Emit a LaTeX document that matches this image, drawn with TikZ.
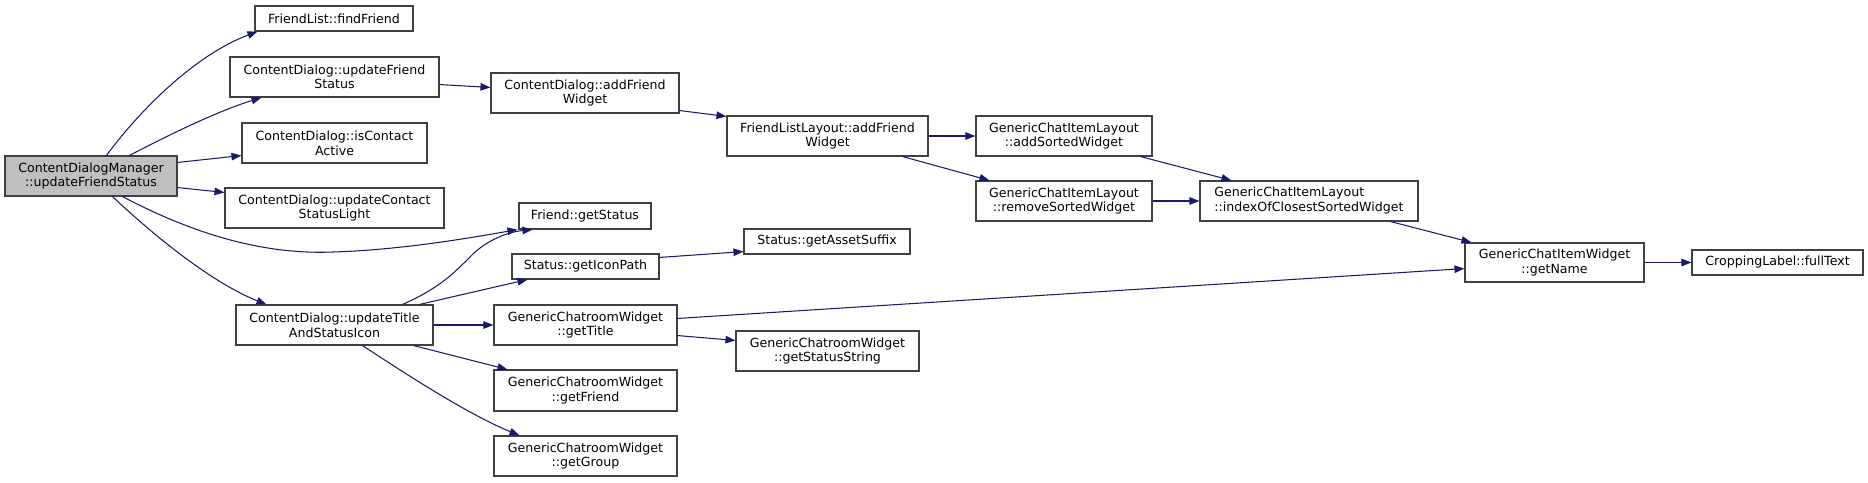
\documentclass[tikz,border=0pt]{standalone}
\usepackage{fontspec}
\newfontfamily\dvs{DejaVu Sans}
\usetikzlibrary{arrows.meta,calc}
\definecolor{edgecol}{HTML}{191970}
\definecolor{boxcol}{HTML}{404040}
\definecolor{rootfill}{HTML}{BFBFBF}
\begin{document}
\begin{tikzpicture}[x=1pt,y=-1pt,
  fn/.style={draw=boxcol,line width=1.1pt,fill=white,inner sep=0pt,align=center,
    font=\dvs\fontsize{12.6}{14.6}\selectfont,text=black},
  rootbox/.style={fn,fill=rootfill},
  call/.style={draw=edgecol,line width=1.05pt,-{Triangle[length=10pt,width=7.5pt]},fill=none}]
\useasboundingbox (0,0) rectangle (1868,482);
\newcommand\bx[6]{\node[#1,minimum width={#5-#3},minimum height={#6-#4}] (#2) at ({(#3+#5)/2},{(#4+#6)/2})}
\bx{rootbox}{root}{5}{156}{177}{196} {ContentDialogManager\\::updateFriendStatus};
\bx{fn}{ff}{255}{6}{413}{31} {FriendList::findFriend};
\bx{fn}{ufs}{230}{57}{439}{97} {ContentDialog::updateFriend\\Status};
\bx{fn}{ica}{242}{123}{427}{163} {ContentDialog::isContact\\Active};
\bx{fn}{ucsl}{225}{188}{444}{228} {ContentDialog::updateContact\\StatusLight};
\bx{fn}{utsi}{236}{305}{433}{345} {ContentDialog::updateTitle\\AndStatusIcon};
\bx{fn}{afw}{491}{73}{679}{113} {ContentDialog::addFriend\\Widget};
\bx{fn}{fll}{727}{116}{928}{156} {FriendListLayout::addFriend\\Widget};
\bx{fn}{gs}{519}{203}{651}{229} {Friend::getStatus};
\bx{fn}{gas}{744}{229}{910}{254} {Status::getAssetSuffix};
\bx{fn}{gip}{512}{254}{659}{279} {Status::getIconPath};
\bx{fn}{gt}{494}{305}{677}{345} {GenericChatroomWidget\\::getTitle};
\bx{fn}{gss}{736}{331}{919}{371} {GenericChatroomWidget\\::getStatusString};
\bx{fn}{gf}{494}{370}{677}{411} {GenericChatroomWidget\\::getFriend};
\bx{fn}{gg}{494}{436}{677}{476} {GenericChatroomWidget\\::getGroup};
\bx{fn}{asw}{976}{116}{1152}{156} {GenericChatItemLayout\\::addSortedWidget};
\bx{fn}{rsw}{976}{181}{1152}{221} {GenericChatItemLayout\\::removeSortedWidget};
\bx{fn}{ioc}{1200}{181}{1418}{221} {\begin{tabular}{@{}l@{}}GenericChatItemLayout\\::indexOfClosestSortedWidget\end{tabular}};
\bx{fn}{gn}{1465}{243}{1644}{282} {GenericChatItemWidget\\::getName};
\bx{fn}{ft}{1692}{250}{1863}{275} {CroppingLabel::fullText};
% edges
\draw[call] ($(root.north west)+(102,0)$) .. controls (140,110) and (195,55) .. ($(ff.south west)+(3,0)$);
\draw[call] ($(root.north west)+(125,0)$) .. controls (165,137) and (215,112) .. ($(ufs.south west)+(32,0)$);
\draw[call] ($(root.north east)+(0,7)$) -- ($(ica.south west)+(0,-8)$);
\draw[call] ($(root.south east)+(0,-9)$) -- ($(ucsl.north west)+(0,5)$);
\draw[call] ($(root.south west)+(118,0)$) .. controls (190,232) and (260,255) .. (333,252) .. controls (400,250) and (470,238) .. ($(gs.south west)+(-1,0)$);
\draw[call] ($(root.south west)+(108,0)$) .. controls (150,232) and (210,282) .. ($(utsi.north west)+(31,0)$);
\draw[call] ($(ufs.south east)+(0,-13)$) -- ($(afw.north west)+(0,15)$);
\draw[call] ($(afw.south east)+(0,-3)$) -- ($(fll.north west)+(0,1)$);
\draw[call] (fll.east) -- (asw.west);
\draw[call] ($(fll.south east)+(-26,0)$) -- ($(rsw.north west)+(14,0)$);
\draw[call] ($(asw.south east)+(-12,0)$) -- ($(ioc.north west)+(32,0)$);
\draw[call] (rsw.east) -- (ioc.west);
\draw[call] ($(ioc.south east)+(-28,0)$) -- ($(gn.north west)+(7,0)$);
\draw[call] (gn.east) -- (ft.west);
\draw[call] ($(utsi.north west)+(167,0)$) .. controls (440,288) and (455,272) .. (470,257) .. controls (486,240) and (508,232) .. ($(gs.south west)+(14,0)$);
\draw[call] ($(utsi.north west)+(184,0)$) -- ($(gip.south west)+(16,0)$);
\draw[call] (utsi.east) -- (gt.west);
\draw[call] ($(utsi.south east)+(-20,0)$) -- ($(gf.north west)+(14,0)$);
\draw[call] ($(utsi.south west)+(127,0)$) .. controls (400,370) and (465,413) .. ($(gg.north west)+(26,0)$);
\draw[call] ($(gip.north east)+(0,4)$) -- ($(gas.south west)+(0,-3)$);
\draw[call] ($(gt.south east)+(0,-10)$) -- ($(gss.north west)+(0,10)$);
\draw[call] ($(gt.north east)+(0,14)$) -- ($(gn.south west)+(0,-14)$);
\end{tikzpicture}
\end{document}
